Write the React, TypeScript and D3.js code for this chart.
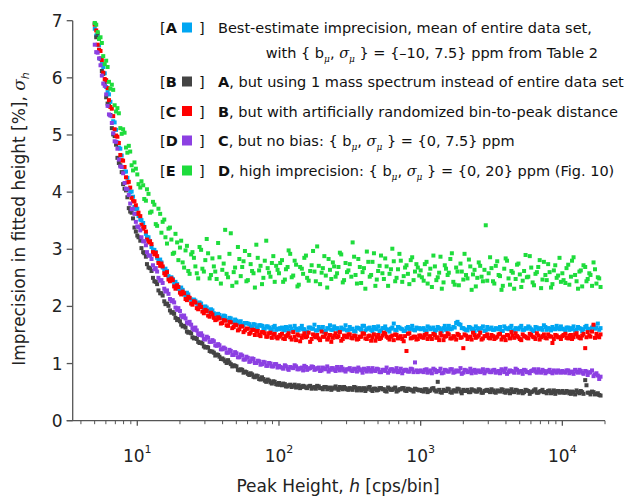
import React from "react";
import * as d3 from "d3";

// peak heights h [cps/bin], first pass
const peakHeight = [
  5.01, 5.25, 5.5, 5.75, 6.03, 6.31, 6.61, 6.92, 7.24, 7.59, 7.94, 8.32, 8.71, 9.12, 9.55,
  10, 10.5, 11, 11.5, 12, 12.6, 13.2, 13.8, 14.5, 15.1, 15.8, 16.6, 17.4, 18.2, 19.1, 20, 20.9, 21.9, 22.9, 24, 25.1, 26.3, 27.5, 28.8, 30.2,
  31.6, 33.1, 34.7, 36.3, 38, 39.8, 41.7, 43.7, 45.7, 47.9, 50.1, 52.5, 55, 57.5, 60.3, 63.1, 66.1, 69.2, 72.4, 75.9, 79.4, 83.2, 87.1, 91.2, 95.5,
  100, 105, 110, 115, 120, 126, 132, 138, 145, 151, 158, 166, 174, 182, 191, 200, 209, 219, 229, 240, 251, 263, 275, 288, 302,
  316, 331, 347, 363, 380, 398, 417, 437, 457, 479, 501, 525, 550, 575, 603, 631, 661, 692, 724, 759, 794, 832, 871, 912, 955,
  1000, 1050, 1100, 1150, 1200, 1260, 1320, 1380, 1450, 1510, 1580, 1660, 1740, 1820, 1910, 2000, 2090, 2190, 2290, 2400, 2510, 2630, 2750, 2880, 3020,
  3160, 3310, 3470, 3630, 3800, 3980, 4170, 4370, 4570, 4790, 5010, 5250, 5500, 5750, 6030, 6310, 6610, 6920, 7240, 7590, 7940, 8320, 8710, 9120, 9550,
  10000, 10500, 11000, 11500, 12000, 12600, 13200, 13800, 14500, 15100, 15800, 16600, 17400, 18200,
];

// peak heights h [cps/bin], second pass (in between)
const peakHeightMid = [
  5.13, 5.37, 5.62, 5.89, 6.17, 6.46, 6.76, 7.08, 7.41, 7.76, 8.13, 8.51, 8.91, 9.33, 9.77,
  10.2, 10.7, 11.2, 11.7, 12.3, 12.9, 13.5, 14.1, 14.8, 15.5, 16.2, 17, 17.8, 18.6, 19.5, 20.4, 21.4, 22.4, 23.4, 24.5, 25.7, 26.9, 28.2, 29.5, 30.9,
  32.4, 33.9, 35.5, 37.2, 38.9, 40.7, 42.7, 44.7, 46.8, 49, 51.3, 53.7, 56.2, 58.9, 61.7, 64.6, 67.6, 70.8, 74.1, 77.6, 81.3, 85.1, 89.1, 93.3, 97.7,
  102, 107, 112, 117, 123, 129, 135, 141, 148, 155, 162, 170, 178, 186, 195, 204, 214, 224, 234, 245, 257, 269, 282, 295, 309,
  324, 339, 355, 372, 389, 407, 427, 447, 468, 490, 513, 537, 562, 589, 617, 646, 676, 708, 741, 776, 813, 851, 891, 933, 977,
  1020, 1070, 1120, 1170, 1230, 1290, 1350, 1410, 1480, 1550, 1620, 1700, 1780, 1860, 1950, 2040, 2140, 2240, 2340, 2450, 2570, 2690, 2820, 2950, 3090,
  3240, 3390, 3550, 3720, 3890, 4070, 4270, 4470, 4680, 4900, 5130, 5370, 5620, 5890, 6170, 6460, 6760, 7080, 7410, 7760, 8130, 8510, 8910, 9330, 9770,
  10200, 10700, 11200, 11700, 12300, 12900, 13500, 14100, 14800, 15500, 16200, 17000, 17800, 18600,
];

// imprecision sigma_h [%] at peakHeight
const sigmaA = [
  6.86, 6.72, 6.33, 6.19, 5.84, 5.71, 5.33, 5.22, 4.87, 4.76, 4.44, 4.36, 4.05, 4.01, 3.74,
  3.71, 3.52, 3.46, 3.27, 3.21, 3.04, 2.99, 2.85, 2.82, 2.68, 2.66, 2.53, 2.51, 2.4, 2.39, 2.3, 2.29, 2.2, 2.21, 2.12, 2.12, 2.05, 2.07, 1.99, 2.0,
  1.93, 1.95, 1.88, 1.86, 1.85, 1.8, 1.83, 1.76, 1.79, 1.72, 1.75, 1.73, 1.68, 1.71, 1.7, 1.65, 1.69, 1.63, 1.67, 1.66, 1.61, 1.65, 1.6, 1.64, 1.59,
  1.6, 1.63, 1.58, 1.62, 1.65, 1.57, 1.61, 1.59, 1.66, 1.6, 1.56, 1.63, 1.61, 1.58, 1.64, 1.6, 1.55, 1.62, 1.67, 1.59, 1.61, 1.57, 1.63, 1.6, 1.58,
  1.64, 1.61, 1.56, 1.62, 1.59, 1.66, 1.6, 1.63, 1.57, 1.61, 1.65, 1.58, 1.62, 1.6, 1.56, 1.63, 1.59, 1.64, 1.61, 1.57, 1.62, 1.6, 1.66, 1.58, 1.61,
  1.6, 1.62, 1.58, 1.63, 1.61, 1.57, 1.64, 1.6, 1.62, 1.59, 1.66, 1.61, 1.63, 1.73, 1.68, 1.62, 1.59, 1.64, 1.6, 1.57, 1.62, 1.61, 1.65, 1.58, 1.6,
  1.63, 1.59, 1.61, 1.64, 1.57, 1.62, 1.6, 1.66, 1.58, 1.61, 1.63, 1.59, 1.62, 1.65, 1.6, 1.57, 1.63, 1.61, 1.59, 1.64, 1.62, 1.58, 1.61, 1.66, 1.6,
  1.61, 1.58, 1.63, 1.6, 1.65, 1.59, 1.62, 1.57, 1.64, 1.61, 1.6, 1.66, 1.63, 1.59,
];
const sigmaB = [
  6.95, 6.78, 6.34, 6.07, 5.66, 5.51, 5.12, 4.98, 4.6, 4.47, 4.14, 4.03, 3.72, 3.64, 3.38,
  3.24, 3.15, 2.95, 2.87, 2.68, 2.62, 2.44, 2.39, 2.23, 2.19, 2.04, 2.01, 1.89, 1.87, 1.76, 1.74, 1.65, 1.63, 1.54, 1.53, 1.44, 1.43, 1.36, 1.35, 1.28,
  1.28, 1.21, 1.19, 1.16, 1.12, 1.09, 1.04, 1.06, 0.99, 0.97, 0.95, 0.88, 0.89, 0.86, 0.82, 0.83, 0.77, 0.79, 0.73, 0.76, 0.7, 0.72, 0.67, 0.69, 0.64,
  0.66, 0.62, 0.64, 0.6, 0.63, 0.61, 0.58, 0.62, 0.59, 0.6, 0.57, 0.61, 0.58, 0.56, 0.6, 0.57, 0.59, 0.55, 0.58, 0.56, 0.6, 0.54, 0.57, 0.59, 0.55,
  0.57, 0.54, 0.58, 0.56, 0.53, 0.57, 0.55, 0.59, 0.52, 0.56, 0.54, 0.57, 0.55, 0.51, 0.56, 0.54, 0.58, 0.53, 0.55, 0.57, 0.52, 0.55, 0.53, 0.56, 0.54,
  0.54, 0.51, 0.55, 0.52, 0.56, 0.53, 0.68, 0.5, 0.54, 0.52, 0.55, 0.49, 0.53, 0.56, 0.51, 0.54, 0.52, 0.5, 0.55, 0.53, 0.51, 0.54, 0.49, 0.53, 0.52,
  0.55, 0.5, 0.53, 0.51, 0.54, 0.49, 0.52, 0.55, 0.5, 0.53, 0.51, 0.48, 0.54, 0.52, 0.5, 0.53, 0.49, 0.51, 0.54, 0.5, 0.52, 0.48, 0.53, 0.51, 0.49,
  0.52, 0.49, 0.51, 0.47, 0.5, 0.53, 0.48, 0.5, 0.71, 0.49, 0.46, 0.5, 0.47, 0.45,
];
const sigmaC = [
  6.93, 6.58, 6.47, 6.09, 5.96, 5.61, 5.46, 5.1, 4.97, 4.65, 4.55, 4.26, 4.18, 3.9, 3.84,
  3.62, 3.58, 3.36, 3.31, 3.12, 3.09, 2.91, 2.88, 2.71, 2.7, 2.55, 2.47, 2.49, 2.35, 2.37, 2.24, 2.26, 2.13, 2.17, 2.05, 2.09, 1.97, 2.03, 1.91, 1.94,
  1.84, 1.89, 1.8, 1.77, 1.79, 1.71, 1.75, 1.66, 1.72, 1.64, 1.67, 1.6, 1.65, 1.58, 1.61, 1.54, 1.59, 1.57, 1.5, 1.55, 1.53, 1.47, 1.54, 1.51, 1.46,
  1.47, 1.52, 1.43, 1.5, 1.46, 1.55, 1.41, 1.49, 1.45, 1.53, 1.48, 1.38, 1.51, 1.46, 1.44, 1.56, 1.47, 1.42, 1.5, 1.45, 1.53, 1.48, 1.4, 1.49, 1.46,
  1.51, 1.44, 1.48, 1.43, 1.47, 1.52, 1.43, 1.49, 1.46, 1.4, 1.5, 1.45, 1.54, 1.47, 1.42, 1.49, 1.51, 1.44, 1.48, 1.39, 1.22, 1.53, 1.45, 1.47, 1.43,
  1.49, 1.45, 1.52, 1.47, 1.43, 1.5, 1.46, 1.53, 1.41, 1.48, 1.51, 1.44, 1.47, 1.52, 1.45, 1.27, 1.49, 1.46, 1.42, 1.5, 1.47, 1.54, 1.44, 1.48, 1.45,
  1.5, 1.43, 1.47, 1.52, 1.46, 1.41, 1.49, 1.55, 1.45, 1.48, 1.43, 1.51, 1.47, 1.44, 1.5, 1.46, 1.53, 1.42, 1.48, 1.45, 1.51, 1.47, 1.43, 1.49, 1.46,
  1.48, 1.52, 1.44, 1.5, 1.46, 1.53, 1.45, 1.49, 1.27, 1.55, 1.47, 1.68, 1.52, 1.46,
];
const sigmaD = [
  6.58, 6.44, 6.22, 5.9, 5.71, 5.36, 5.21, 4.89, 4.76, 4.45, 4.33, 4.06, 3.95, 3.7, 3.62,
  3.4, 3.33, 3.14, 3.07, 2.89, 2.83, 2.65, 2.61, 2.45, 2.41, 2.26, 2.22, 2.09, 2.07, 1.94, 1.92, 1.81, 1.79, 1.7, 1.68, 1.59, 1.58, 1.5, 1.49, 1.42,
  1.45, 1.38, 1.39, 1.31, 1.32, 1.25, 1.26, 1.19, 1.22, 1.15, 1.18, 1.11, 1.14, 1.07, 1.1, 1.04, 1.08, 1.01, 1.04, 0.99, 1.02, 0.96, 1.0, 0.95, 0.99,
  0.96, 0.93, 0.97, 0.91, 0.94, 0.92, 0.95, 0.9, 0.93, 0.96, 0.89, 0.92, 0.94, 0.9, 0.93, 0.88, 0.91, 0.95, 0.89, 0.92, 0.87, 0.91, 0.94, 0.88, 0.9,
  0.92, 0.87, 0.9, 0.93, 0.88, 0.91, 0.86, 0.89, 0.92, 0.87, 0.9, 0.85, 0.89, 0.93, 0.87, 0.9, 0.88, 0.85, 0.91, 0.87, 0.89, 0.86, 0.9, 1.02, 0.85,
  0.88, 0.85, 0.9, 0.86, 0.83, 0.89, 0.87, 0.91, 0.84, 0.88, 0.86, 0.9, 0.85, 0.87, 0.92, 0.84, 0.88, 0.86, 0.83, 0.89, 0.87, 0.85, 0.9, 0.86, 0.88,
  0.85, 0.89, 0.86, 0.83, 0.88, 0.91, 0.85, 0.87, 0.84, 0.89, 0.86, 0.82, 0.88, 0.85, 0.87, 0.9, 0.84, 0.86, 0.89, 0.83, 0.87, 0.85, 0.88, 0.84, 0.86,
  0.87, 0.84, 0.88, 0.85, 0.82, 0.86, 0.89, 0.84, 0.87, 0.8, 0.85, 0.78, 0.83, 0.73,
];
const sigmaE = [
  6.96, 6.8, 6.71, 6.38, 6.3, 5.93, 5.88, 5.52, 5.47, 5.12, 5.1, 4.78, 4.81, 4.47, 4.52,
  4.31, 4.08, 4.12, 3.85, 3.97, 3.66, 3.78, 3.41, 3.62, 3.48, 3.21, 3.36, 3.17, 2.94, 3.12, 3.03, 2.77, 2.98, 2.62, 2.91, 2.85, 2.58, 3.04, 2.66, 2.81,
  2.93, 2.55, 2.7, 2.48, 2.86, 2.64, 3.34, 2.51, 3.28, 2.6, 2.42, 2.83, 2.69, 2.97, 2.46, 2.74, 2.58, 3.08, 2.63, 2.39, 2.8, 2.67, 2.52, 2.88, 2.71,
  2.58, 2.81, 2.47, 2.69, 2.92, 2.54, 2.73, 2.38, 2.66, 2.85, 2.5, 2.62, 2.97, 2.44, 2.71, 2.59, 2.88, 2.33, 2.64, 2.77, 2.52, 2.69, 2.91, 2.46, 2.6,
  2.74, 3.12, 2.55, 2.83, 2.41, 2.67, 2.96, 2.52, 2.78, 2.36, 2.62, 2.89, 2.48, 2.7, 2.57, 3.01, 2.44, 2.65, 2.8, 2.53, 2.72, 2.39, 2.86, 2.61, 2.68,
  2.63, 2.45, 2.78, 2.56, 2.34, 2.7, 2.51, 2.87, 2.42, 2.66, 2.59, 2.93, 2.38, 2.61, 2.75, 2.47, 2.55, 2.82, 2.29, 2.64, 2.5, 2.71, 2.44, 3.42, 2.58,
  2.67, 2.4, 2.79, 2.53, 2.36, 2.84, 2.49, 2.62, 2.31, 2.73, 2.56, 2.45, 2.9, 2.52, 2.68, 2.37, 2.6, 2.81, 2.47, 2.55, 2.74, 2.33, 2.63, 2.5, 2.85,
  2.58, 2.41, 2.73, 2.52, 2.86, 2.44, 2.61, 2.35, 2.69, 2.48, 2.55, 2.77, 2.4, 2.49,
];

// imprecision sigma_h [%] at peakHeightMid
const sigmaAMid = [
  6.74, 6.57, 6.24, 6.08, 5.75, 5.58, 5.24, 5.09, 4.78, 4.64, 4.36, 4.25, 4.0, 3.92, 3.7,
  3.58, 3.51, 3.39, 3.21, 3.14, 2.99, 2.95, 2.8, 2.77, 2.64, 2.62, 2.49, 2.48, 2.43, 2.31, 2.33, 2.21, 2.24, 2.14, 2.11, 2.1, 2.02, 2.05, 1.97, 1.98,
  1.91, 1.93, 1.84, 1.87, 1.81, 1.84, 1.76, 1.8, 1.73, 1.77, 1.7, 1.74, 1.67, 1.71, 1.69, 1.64, 1.68, 1.62, 1.67, 1.6, 1.65, 1.63, 1.59, 1.66, 1.61,
  1.62, 1.59, 1.64, 1.57, 1.61, 1.66, 1.58, 1.62, 1.6, 1.55, 1.63, 1.61, 1.68, 1.58, 1.6, 1.64, 1.57, 1.61, 1.59, 1.65, 1.62, 1.58, 1.6, 1.67, 1.59,
  1.6, 1.57, 1.63, 1.61, 1.66, 1.58, 1.62, 1.59, 1.64, 1.6, 1.56, 1.62, 1.65, 1.59, 1.61, 1.7, 1.58, 1.63, 1.6, 1.57, 1.64, 1.61, 1.59, 1.63, 1.62,
  1.61, 1.58, 1.65, 1.6, 1.63, 1.59, 1.62, 1.57, 1.66, 1.61, 1.6, 1.64, 1.71, 1.69, 1.62, 1.6, 1.58, 1.63, 1.61, 1.65, 1.59, 1.62, 1.57, 1.64, 1.61,
  1.59, 1.62, 1.6, 1.57, 1.65, 1.61, 1.63, 1.58, 1.62, 1.6, 1.66, 1.59, 1.61, 1.63, 1.58, 1.64, 1.6, 1.62, 1.67, 1.59, 1.61, 1.64, 1.6, 1.62, 1.65,
  1.6, 1.63, 1.59, 1.62, 1.58, 1.64, 1.61, 1.6, 1.66, 1.59, 1.63, 1.61, 1.7, 1.62,
];
const sigmaBMid = [
  6.71, 6.49, 6.12, 5.9, 5.55, 5.35, 5.01, 4.83, 4.51, 4.35, 4.06, 3.91, 3.66, 3.54, 3.31,
  3.21, 3.02, 2.93, 2.74, 2.67, 2.5, 2.43, 2.28, 2.23, 2.09, 2.05, 1.93, 1.9, 1.8, 1.78, 1.68, 1.66, 1.56, 1.55, 1.46, 1.45, 1.38, 1.37, 1.3, 1.29,
  1.22, 1.21, 1.14, 1.15, 1.08, 1.07, 1.01, 1.02, 0.95, 0.96, 0.89, 0.9, 0.84, 0.85, 0.8, 0.81, 0.76, 0.78, 0.72, 0.73, 0.68, 0.7, 0.65, 0.68, 0.63,
  0.63, 0.65, 0.6, 0.62, 0.59, 0.63, 0.6, 0.57, 0.61, 0.58, 0.6, 0.56, 0.59, 0.61, 0.57, 0.55, 0.59, 0.57, 0.54, 0.58, 0.56, 0.59, 0.55, 0.57, 0.54,
  0.56, 0.59, 0.53, 0.57, 0.55, 0.52, 0.58, 0.54, 0.56, 0.53, 0.57, 0.55, 0.52, 0.58, 0.54, 0.56, 0.51, 0.55, 0.57, 0.53, 0.56, 0.54, 0.51, 0.55, 0.53,
  0.52, 0.55, 0.5, 0.53, 0.57, 0.51, 0.54, 0.49, 0.52, 0.56, 0.5, 0.53, 0.51, 0.55, 0.48, 0.52, 0.54, 0.5, 0.53, 0.51, 0.55, 0.49, 0.52, 0.54, 0.5,
  0.53, 0.49, 0.52, 0.55, 0.5, 0.53, 0.48, 0.51, 0.54, 0.49, 0.52, 0.5, 0.53, 0.47, 0.51, 0.55, 0.49, 0.52, 0.5, 0.48, 0.53, 0.5, 0.47, 0.52, 0.5,
  0.49, 0.52, 0.48, 0.51, 0.46, 0.5, 0.52, 0.47, 0.62, 0.49, 0.51, 0.46, 0.48, 0.44,
];
const sigmaCMid = [
  6.83, 6.49, 6.31, 5.98, 5.82, 5.49, 5.33, 4.99, 4.86, 4.56, 4.44, 4.17, 4.08, 3.84, 3.77,
  3.64, 3.43, 3.39, 3.17, 3.14, 2.95, 2.94, 2.76, 2.75, 2.58, 2.6, 2.44, 2.46, 2.31, 2.34, 2.21, 2.23, 2.11, 2.15, 2.03, 2.07, 1.95, 1.99, 1.88, 1.92,
  1.82, 1.86, 1.76, 1.81, 1.7, 1.76, 1.67, 1.73, 1.62, 1.68, 1.58, 1.65, 1.55, 1.61, 1.52, 1.59, 1.5, 1.57, 1.48, 1.55, 1.47, 1.53, 1.45, 1.52, 1.44,
  1.5, 1.44, 1.48, 1.53, 1.42, 1.47, 1.51, 1.39, 1.49, 1.46, 1.54, 1.43, 1.48, 1.5, 1.41, 1.47, 1.52, 1.45, 1.38, 1.49, 1.46, 1.55, 1.43, 1.48, 1.51,
  1.45, 1.49, 1.42, 1.47, 1.53, 1.44, 1.48, 1.4, 1.51, 1.46, 1.43, 1.49, 1.52, 1.45, 1.47, 1.41, 1.5, 1.46, 1.43, 1.48, 1.52, 1.44, 1.47, 1.42, 1.49,
  1.46, 1.5, 1.43, 1.48, 1.52, 1.45, 1.41, 1.49, 1.47, 1.53, 1.44, 1.48, 1.42, 1.5, 1.46, 1.51, 1.43, 1.47, 1.54, 1.45, 1.49, 1.42, 1.48, 1.51, 1.44,
  1.48, 1.45, 1.51, 1.42, 1.47, 1.5, 1.44, 1.49, 1.53, 1.46, 1.41, 1.48, 1.45, 1.52, 1.47, 1.43, 1.49, 1.46, 1.51, 1.44, 1.48, 1.36, 1.5, 1.46, 1.43,
  1.5, 1.45, 1.49, 1.43, 1.51, 1.47, 1.44, 1.52, 1.46, 1.49, 1.56, 1.45, 1.48, 1.51,
];
const sigmaDMid = [
  6.45, 6.34, 6.04, 5.86, 5.51, 5.34, 5.03, 4.88, 4.57, 4.44, 4.16, 4.05, 3.8, 3.71, 3.48,
  3.39, 3.21, 3.14, 2.95, 2.89, 2.72, 2.67, 2.5, 2.46, 2.31, 2.28, 2.13, 2.11, 1.98, 1.97, 1.84, 1.84, 1.72, 1.73, 1.62, 1.63, 1.52, 1.53, 1.43, 1.47,
  1.38, 1.41, 1.32, 1.34, 1.25, 1.28, 1.19, 1.24, 1.15, 1.2, 1.11, 1.16, 1.07, 1.12, 1.03, 1.09, 1.01, 1.05, 0.98, 1.03, 0.96, 1.01, 0.95, 0.99, 0.93,
  0.94, 0.91, 0.95, 0.89, 0.93, 0.97, 0.9, 0.92, 0.88, 0.94, 0.91, 0.95, 0.89, 0.92, 0.87, 0.93, 0.9, 0.86, 0.92, 0.89, 0.94, 0.88, 0.91, 0.86, 0.9,
  0.88, 0.91, 0.86, 0.9, 0.84, 0.89, 0.92, 0.86, 0.88, 0.91, 0.85, 0.89, 0.87, 0.84, 0.9, 0.86, 0.92, 0.87, 0.83, 0.89, 0.86, 0.91, 0.85, 0.88, 0.87,
  0.86, 0.89, 0.84, 0.88, 0.91, 0.85, 0.87, 0.83, 0.89, 0.86, 0.9, 0.84, 0.88, 0.86, 0.82, 0.89, 0.85, 0.91, 0.87, 0.84, 0.88, 0.86, 0.83, 0.89, 0.85,
  0.88, 0.84, 0.87, 0.9, 0.85, 0.82, 0.88, 0.86, 0.91, 0.84, 0.87, 0.89, 0.85, 0.83, 0.88, 0.86, 0.9, 0.84, 0.87, 0.85, 0.89, 0.83, 0.86, 0.88, 0.84,
  0.85, 0.88, 0.83, 0.86, 0.89, 0.84, 0.87, 0.82, 0.86, 0.84, 0.88, 0.81, 0.79, 0.77,
];
const sigmaEMid = [
  6.93, 6.68, 6.61, 6.24, 6.19, 5.81, 5.79, 5.41, 5.38, 5.02, 5.04, 4.69, 4.71, 4.38, 4.41,
  4.14, 4.19, 3.88, 4.05, 3.64, 3.83, 3.44, 3.71, 3.29, 3.52, 3.1, 3.38, 2.92, 3.27, 2.81, 3.15, 2.68, 3.06, 2.57, 2.95, 2.7, 2.49, 2.99, 2.61, 3.18,
  2.49, 2.84, 2.61, 3.11, 2.4, 2.75, 2.57, 2.92, 2.36, 2.68, 3.04, 2.53, 2.79, 2.44, 2.9, 2.62, 2.33, 2.85, 2.71, 2.5, 3.15, 2.59, 2.76, 2.43, 2.64,
  2.76, 2.43, 2.65, 2.98, 2.51, 2.8, 2.35, 2.69, 2.57, 2.89, 2.45, 2.72, 2.61, 3.05, 2.39, 2.67, 2.54, 2.83, 2.48, 2.7, 2.58, 2.94, 2.42, 2.76, 2.63,
  2.52, 2.87, 2.4, 2.69, 2.6, 2.31, 2.78, 2.55, 2.93, 2.47, 2.71, 2.58, 2.84, 2.36, 2.65, 2.79, 2.5, 2.92, 2.43, 2.68, 2.57, 2.81, 2.46, 2.74, 2.54,
  2.51, 2.74, 2.4, 2.66, 2.89, 2.46, 2.59, 2.31, 2.72, 2.55, 2.83, 2.43, 2.68, 2.37, 2.61, 2.92, 2.49, 2.7, 2.56, 2.35, 2.77, 2.52, 2.64, 2.45, 2.86,
  2.44, 2.71, 2.55, 2.29, 2.66, 2.8, 2.38, 2.59, 2.48, 2.75, 2.34, 2.62, 2.51, 2.88, 2.42, 2.57, 2.69, 2.32, 2.78, 2.46, 2.6, 2.39, 2.72, 2.54, 2.43,
  2.46, 2.67, 2.38, 2.8, 2.55, 2.31, 2.63, 2.72, 2.44, 2.58, 2.36, 2.65, 2.51, 2.34,
];

const seriesKeys = ["A", "B", "C", "D", "E"];
const seriesColors = ["#00a6f2", "#444444", "#ff0000", "#8c40e2", "#1edc3c"];
const seriesValues = [
  [sigmaA, sigmaAMid],
  [sigmaB, sigmaBMid],
  [sigmaC, sigmaCMid],
  [sigmaD, sigmaDMid],
  [sigmaE, sigmaEMid],
];

// legend notes; "§" marks where "{ bμ, σμ }" goes
const legendLeads = ["", "A", "B", "C", "D"];
const legendNotes = [
  "Best-estimate imprecision, mean of entire data set,",
  ", but using 1 mass spectrum instead of entire data set",
  ", but with artificially randomized bin-to-peak distance",
  ", but no bias: § = {0, 7.5} ppm",
  ", high imprecision: § = {0, 20} ppm (Fig. 10)",
];
const legendNoteA2 = "with § = {\u201310, 7.5} ppm from Table 2";
const legendBaselines = [33, 87, 116.5, 146, 176];

const yTicks = [0, 1, 2, 3, 4, 5, 6, 7];
const xMajor = [10, 100, 1000, 10000];

const font = "'DejaVu Sans', 'Open Sans', sans-serif";
const greek = "'DejaVu Serif', 'Liberation Serif', serif";

const BSigma = () => (
  <>
    <tspan>{"{ b"}</tspan>
    <tspan fontSize={9} dy={4} fontStyle="italic" fontFamily={greek}>μ</tspan>
    <tspan dy={-4}>, </tspan>
    <tspan fontStyle="italic" fontFamily={greek}>σ</tspan>
    <tspan fontSize={9} dy={4} fontStyle="italic" fontFamily={greek}>μ</tspan>
    <tspan dy={-4}>{" }"}</tspan>
  </>
);

const withBSigma = (s: string) =>
  s.split("§").map((p, i) => (
    <React.Fragment key={i}>
      {i > 0 && <BSigma />}
      <tspan>{p}</tspan>
    </React.Fragment>
  ));

export default function App() {
  const width = 634;
  const height = 498;
  const left = 72.7;
  const right = 605;
  const top = 20.7;
  const bottom = 420.7;

  const x = d3.scaleLog().domain([3.5, 20000]).range([left, right]);
  const y = d3.scaleLinear().domain([0, 7]).range([bottom, top]);

  const xMinor = x.ticks().filter((t) => !xMajor.includes(t));
  const heights = [peakHeight, peakHeightMid];

  return (
    <svg
      width={width}
      height={height}
      style={{ position: "absolute", left: 0, top: 0, background: "#fff" }}
      fontFamily={font}
    >
      {/* data */}
      {seriesValues.map((passes, si) => (
        <g key={seriesKeys[si]} fill={seriesColors[si]}>
          {passes.map((vals, pi) =>
            heights[pi].map((h, i) =>
              vals[i] == null ? null : (
                <rect key={pi + "-" + i} x={x(h) - 2} y={y(vals[i]) - 2} width={4} height={4} />
              )
            )
          )}
        </g>
      ))}

      {/* axes */}
      <g stroke="#555" strokeWidth={1.3} fill="none">
        <line x1={left} x2={left} y1={top} y2={bottom} />
        <line x1={left - 6} x2={right} y1={bottom} y2={bottom} />
        {yTicks.map((t) => (
          <line key={t} x1={left - 6} x2={left} y1={y(t)} y2={y(t)} />
        ))}
        {xMajor.map((t) => (
          <line key={t} x1={x(t)} x2={x(t)} y1={bottom} y2={bottom + 5} />
        ))}
        {xMinor.map((t) => (
          <line key={t} x1={x(t)} x2={x(t)} y1={bottom} y2={bottom + 3.5} strokeWidth={1} />
        ))}
      </g>
      {yTicks.map((t) => (
        <text key={t} x={left - 10} y={y(t) + 6} textAnchor="end" fontSize={17} fill="#222">
          {t}
        </text>
      ))}
      {xMajor.map((t) => (
        <text key={t} x={x(t)} y={462} textAnchor="middle" fontSize={17} fill="#222">
          <tspan>10</tspan>
          <tspan dy={-9} fontSize={11}>{Math.round(Math.log10(t))}</tspan>
        </text>
      ))}

      {/* axis titles */}
      <text x={338} y={492} textAnchor="middle" fontSize={17} fill="#222">
        <tspan>Peak Height, </tspan>
        <tspan fontStyle="italic">h</tspan>
        <tspan> [cps/bin]</tspan>
      </text>
      <text transform="translate(25,219) rotate(-90)" textAnchor="middle" fontSize={17} fill="#222">
        <tspan>Imprecision in fitted height [%], </tspan>
        <tspan fontStyle="italic" fontFamily={greek}>σ</tspan>
        <tspan fontStyle="italic" fontSize={11} dy={4}>h</tspan>
      </text>

      {/* legend */}
      <g fontSize={14.5} fill="#111">
        {seriesKeys.map((k, i) => {
          const by = legendBaselines[i];
          return (
            <g key={k}>
              <text x={160} y={by}>
                <tspan>[</tspan>
                <tspan fontWeight="bold">{k}</tspan>
              </text>
              <rect x={182} y={by - 10.5} width={10} height={10} fill={seriesColors[i]} />
              <text x={199} y={by}>]</text>
              <text x={218} y={by}>
                {legendLeads[i] && <tspan fontWeight="bold">{legendLeads[i]}</tspan>}
                {withBSigma(legendNotes[i])}
              </text>
            </g>
          );
        })}
        <text x={598} y={57.5} textAnchor="end">
          {withBSigma(legendNoteA2)}
        </text>
      </g>
    </svg>
  );
}
